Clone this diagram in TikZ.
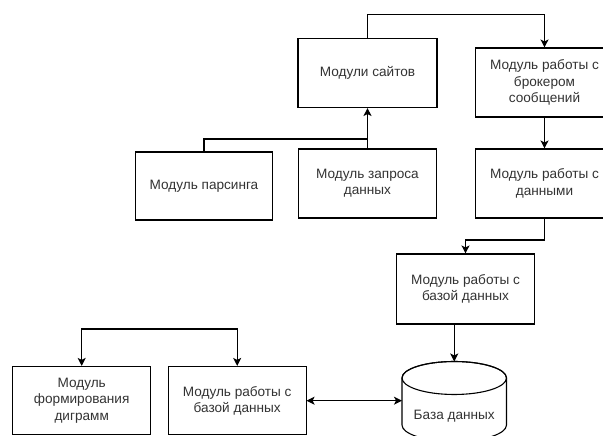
\documentclass[tikz,border=0pt]{standalone}
\usepackage{fontspec}
\setmainfont{Liberation Sans}
\usetikzlibrary{arrows.meta}
\begin{document}
\begin{tikzpicture}[x=1pt,y=1pt,
  box/.style={draw=black, line width=1.1pt, fill=white, rectangle, align=center,
    font=\fontsize{13.6}{16.3}\selectfont, text=black!80, inner sep=0pt},
  lbl/.style={align=center, font=\fontsize{13.6}{16.3}\selectfont, text=black!80, inner sep=0pt},
  wire/.style={line width=1.1pt},
  conn/.style={line width=1.1pt, -{Stealth[length=8pt,width=8pt,inset=2pt]}},
  dconn/.style={line width=1.1pt, {Stealth[length=8pt,width=8pt,inset=2pt]}-{Stealth[length=8pt,width=8pt,inset=2pt]}}]
\useasboundingbox (0,0) rectangle (603,436);
\clip (0,0) rectangle (603,436);
\fill[white] (0,0) rectangle (603,436);

% boxes
\node[box, minimum width=139pt, minimum height=69pt] (sites) at (367.5,363) {Модули сайтов};
\node[box, minimum width=138pt, minimum height=69pt] (broker) at (544.5,353.5) {Модуль работы с\\брокером\\сообщений};
\node[box, minimum width=137pt, minimum height=68pt] (parse) at (204,250) {Модуль парсинга};
\node[box, minimum width=138pt, minimum height=69pt] (query) at (367.5,252.5) {Модуль запроса\\данных};
\node[box, minimum width=138pt, minimum height=69pt] (data) at (544.5,252.5) {Модуль работы с\\данными};
\node[box, minimum width=138pt, minimum height=70pt] (dbm1) at (465.5,147) {Модуль работы с\\базой данных};
\node[box, minimum width=138pt, minimum height=68.5pt] (diag) at (81.7,35.3) {Модуль\\формирования\\диграмм};
\node[box, minimum width=137.7pt, minimum height=68.5pt] (dbm2) at (237.2,35.3) {Модуль работы с\\базой данных};

% cylinder
\filldraw[wire, fill=white] (402,58) -- (402,11) arc[start angle=180, end angle=360, x radius=52.25, y radius=16.5] -- (506.5,58) arc[start angle=0, end angle=180, x radius=52.25, y radius=16.5] -- cycle;
\draw[wire] (454.25,58) ellipse [x radius=52.25, y radius=16.5];
\node[lbl] (db) at (454.25,20) {База данных};
\coordinate (cyltop) at (454.25,74.5);
\coordinate (cylleft) at (402,35.3);

% helper levels
\coordinate (topy) at (0,421.7);
\coordinate (py) at (0,297);
\coordinate (dy) at (0,196);
\coordinate (bj) at (159,107);

% connectors
\draw[conn] (sites.north) -- (sites.north |- topy) -| (broker.north);
\draw[wire] (parse.north) |- (query.north |- py);
\draw[conn] (query.north) -- (sites.south);
\draw[conn] (broker.south) -- (data.north);
\draw[conn] (data.south) -- (data.south |- dy) -| (dbm1.north);
\draw[conn] (dbm1.south -| cyltop) -- (cyltop);
\draw[dconn] (dbm2.east) -- (cylleft);
\draw[conn] (bj) -| (diag.north);
\draw[conn] (bj) -| (dbm2.north);
\end{tikzpicture}
\end{document}
